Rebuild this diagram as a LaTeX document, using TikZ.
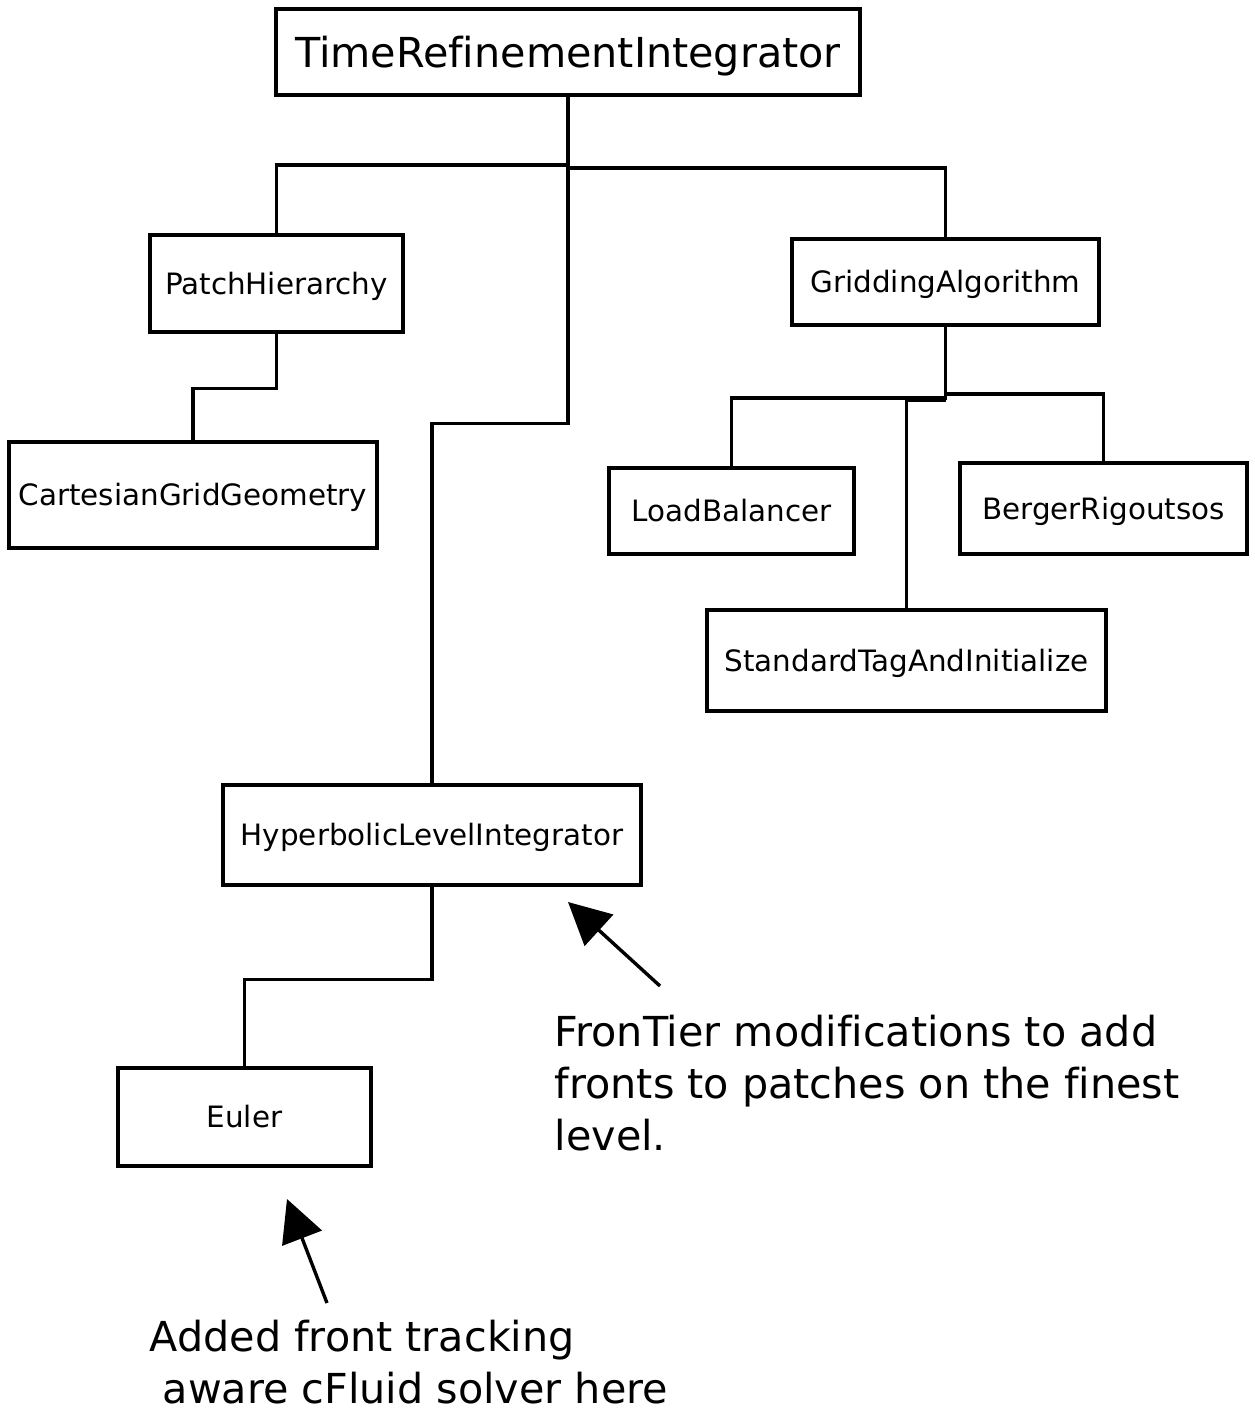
\documentclass[tikz,border=0pt]{standalone}
\usepackage{fontspec}
\setmainfont[Ligatures=NoCommon]{DejaVu Sans}
\usetikzlibrary{arrows.meta}
\begin{document}
\begin{tikzpicture}[x=1bp,y=-1bp,
  line width=3.4bp,
  cls/.style={draw, line width=3.4bp, inner sep=0pt,
    font=\fontsize{29.4bp}{35bp}\selectfont, text height=21.5bp, text depth=0pt},
  top/.style={cls, font=\fontsize{41.3bp}{52bp}\selectfont, text height=30.1bp},
  note/.style={inner sep=0pt, align=left, font=\fontsize{41.3bp}{52bp}\selectfont},
  link/.style={line width=3.4bp},
  pointer/.style={line width=3.4bp, -{Triangle[length=42bp,width=42bp]}}
]
\useasboundingbox (0,0) rectangle (1254,1412);

% class boxes
\node[top, minimum width=584bp, minimum height=86bp]  (tri)   at (568,52)     {TimeRefinementIntegrator};
\node[cls, minimum width=253bp, minimum height=97bp]  (ph)    at (276.5,283.5) {PatchHierarchy};
\node[cls, minimum width=368bp, minimum height=106bp] (cgg)   at (193,495)    {CartesianGridGeometry};
\node[cls, minimum width=307bp, minimum height=86bp]  (ga)    at (945.5,282)  {GriddingAlgorithm};
\node[cls, minimum width=245bp, minimum height=86bp]  (lb)    at (731.5,511)  {LoadBalancer};
\node[cls, minimum width=287bp, minimum height=91bp]  (br)    at (1103.5,508.5) {BergerRigoutsos};
\node[cls, minimum width=399bp, minimum height=101bp] (stai)  at (906.5,660.5) {StandardTagAndInitialize};
\node[cls, minimum width=418bp, minimum height=100bp] (hli)   at (432,835)    {HyperbolicLevelIntegrator};
\node[cls, minimum width=253bp, minimum height=98bp]  (euler) at (244.5,1117) {Euler};

% junction points of the tree
\coordinate (busL) at (568,165);
\coordinate (busR) at (568,168);
\coordinate (gaL)  at (945.5,398);
\coordinate (gaM)  at (945.5,400);
\coordinate (gaR)  at (945.5,394);

% tree connectors
\draw[link] (tri.south) -- ++(0,327) -| (hli.north);
\draw[link] (busL) -| (ph.north);
\draw[link] (busR) -| (ga.north);
\draw[link] (ph.south) -- ++(0,55) -| (cgg.north);
\draw[link] (ga.south) -- (gaM);
\draw[link] (gaL) -| (lb.north);
\draw[link] (gaM) -| (stai.north);
\draw[link] (gaR) -| (br.north);
\draw[link] (hli.south) -- ++(0,93) -| (euler.north);

% annotations (anchored on the baseline of their last line)
\node[note, anchor=base west] (n1) at (553,1150)
  {FronTier modifications to add\\fronts to patches on the finest\\level.};
\node[note, anchor=base west] (n2) at (148,1403)
  {Added front tracking\\\hspace*{13bp}aware cFluid solver here};

\coordinate (p1tail) at (660,986);
\coordinate (p1tip)  at (568,902);
\coordinate (p2tail) at (327,1303);
\coordinate (p2tip)  at (287,1199);
\draw[pointer] (p1tail) -- (p1tip);
\draw[pointer] (p2tail) -- (p2tip);
\end{tikzpicture}
\end{document}
